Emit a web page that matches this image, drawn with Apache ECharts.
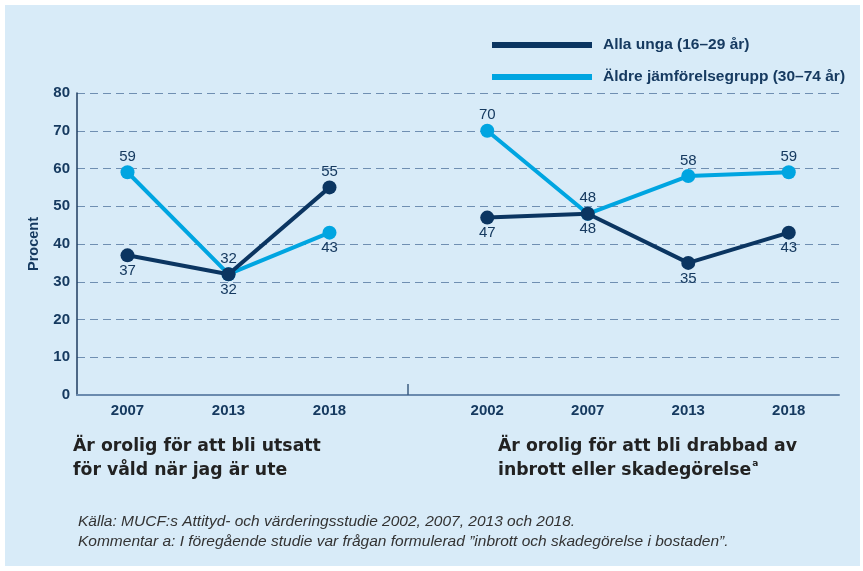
<!DOCTYPE html>
<html>
<head>
<meta charset="utf-8">
<script src="https://cdn.jsdelivr.net/npm/echarts@6/dist/echarts.min.js"></script>
<style>
  html, body { margin: 0; padding: 0; background: #fff; }
  #chart { width: 863px; height: 571px; }
</style>
</head>
<body>
<div id="chart"></div>
<script>
// data
var leftYears = ['2007', '2013', '2018']
var rightYears = ['2002', '2007', '2013', '2018']
var youngLeft = [37, 32, 55]
var olderLeft = [59, 32, 43]
var youngRight = [47, 48, 35, 43]
var olderRight = [70, 48, 58, 59]
var seriesNames = ['Alla unga (16–29 år)', 'Äldre jämförelsegrupp (30–74 år)']
var yTicks = [0, 10, 20, 30, 40, 50, 60, 70, 80]
// label side per point
var youngLeftPos = ['bottom', 'bottom', 'top']
var olderLeftPos = ['top', 'top', 'bottom']
var youngRightPos = ['bottom', 'bottom', 'bottom', 'bottom']
var olderRightPos = ['top', 'top', 'top', 'top']
var gapTick = 0.434 // where the separator tick sits along the whole axis

var navy = '#0b3561'
var cyan = '#00a5e1'
var textNavy = '#163a60'
var font = '"Liberation Sans", Arial, sans-serif'
var wideFont = '"DejaVu Sans", sans-serif'

function points(values, pos) {
  return values.map(function (v, i) {
    return { value: v, label: { position: pos[i] } }
  })
}

function lineSeries(name, color, xi, values, pos, z) {
  return {
    name: name,
    type: 'line',
    xAxisIndex: xi,
    yAxisIndex: xi,
    data: points(values, pos),
    symbol: 'circle',
    symbolSize: 14,
    z: z,
    lineStyle: { color: color, width: 4 },
    itemStyle: { color: color },
    label: {
      show: true,
      distance: 1,
      color: textNavy,
      fontSize: 15,
      fontFamily: font
    },
    emphasis: { disabled: true },
    animation: false
  }
}

var chart = echarts.init(document.getElementById('chart'))

var catAxis = function (gi, data) {
  return {
    type: 'category',
    gridIndex: gi,
    data: data,
    boundaryGap: true,
    axisLine: { show: false },
    axisTick: { show: false },
    axisLabel: {
      color: textNavy,
      fontWeight: 'bold',
      fontSize: 15,
      fontFamily: font,
      margin: 8
    }
  }
}

var hiddenY = function (gi) {
  return {
    type: 'value', gridIndex: gi, min: 0, max: 80, interval: 10,
    axisLine: { show: false }, axisTick: { show: false },
    axisLabel: { show: false }, splitLine: { show: false }
  }
}

chart.setOption({
  backgroundColor: '#ffffff',
  graphic: [{
    type: 'rect',
    shape: { x: 5, y: 5, width: 855, height: 561 },
    style: { fill: '#d8ebf8' },
    z: -10,
    silent: true
  }],
  title: [{
    text: 'Är orolig för att bli utsatt\nför våld när jag är ute',
    left: 68,
    top: 430,
    textStyle: { color: '#222', fontSize: 17.3, fontWeight: 'bold', lineHeight: 24, fontFamily: wideFont }
  }, {
    text: '{t|Är orolig för att bli drabbad av}\n{t|inbrott eller skadegörelse}{s|a}',
    left: 493,
    top: 430,
    textStyle: {
      rich: {
        t: { color: '#222', fontSize: 17.3, fontWeight: 'bold', lineHeight: 24, fontFamily: wideFont },
        s: { color: '#222', fontSize: 9, fontWeight: 'bold', lineHeight: 24, fontFamily: wideFont, verticalAlign: 'top', padding: [0, 0, 10, 1] }
      }
    }
  }, {
    text: 'Källa: MUCF:s Attityd- och värderingsstudie 2002, 2007, 2013 och 2018.\nKommentar a: I föregående studie var frågan formulerad ”inbrott och skadegörelse i bostaden”.',
    left: 73,
    top: 507,
    textStyle: { color: '#333', fontSize: 15.5, fontStyle: 'italic', fontWeight: 'normal', lineHeight: 20, fontFamily: font }
  }],
  legend: {
    data: seriesNames,
    orient: 'vertical',
    left: 487,
    top: 31,
    icon: 'rect',
    itemWidth: 100,
    itemHeight: 6,
    itemGap: 14,
    selectedMode: false,
    textStyle: {
      color: textNavy,
      fontSize: 15.5,
      fontWeight: 'bold',
      fontFamily: font,
      lineHeight: 18,
      padding: [0, 0, 0, 6]
    }
  },
  grid: [
    { left: 77, right: 483, top: 93, bottom: 176 },
    { left: 437, right: 24, top: 93, bottom: 176 },
    { left: 77, right: 24, top: 93, bottom: 176 }
  ],
  xAxis: [
    catAxis(0, leftYears),
    catAxis(1, rightYears),
    {
      type: 'value', gridIndex: 2, min: 0, max: 1,
      axisLine: { show: true, lineStyle: { color: '#6a8aae', width: 2 } },
      axisTick: { show: true, inside: true, length: 11, customValues: [gapTick], lineStyle: { color: '#3c5c80', width: 1.5 } },
      axisLabel: { show: false },
      splitLine: { show: false }
    }
  ],
  yAxis: [
    hiddenY(0),
    hiddenY(1),
    {
      type: 'value', gridIndex: 2, min: 0, max: 80, interval: 10,
      name: 'Procent',
      nameLocation: 'middle',
      nameGap: 36,
      nameTextStyle: { color: textNavy, fontWeight: 'bold', fontSize: 14.5, fontFamily: font },
      axisLine: { show: true, lineStyle: { color: '#1f3d60', width: 1.5 } },
      axisTick: { show: false },
      axisLabel: {
        color: textNavy, fontWeight: 'bold', fontSize: 15, fontFamily: font, margin: 7,
        customValues: yTicks
      },
      splitLine: {
        show: true,
        lineStyle: { color: '#6f8fb2', type: [8, 5], width: 1 }
      }
    }
  ],
  series: [
    lineSeries(seriesNames[1], cyan, 0, olderLeft, olderLeftPos, 2),
    lineSeries(seriesNames[0], navy, 0, youngLeft, youngLeftPos, 3),
    lineSeries(seriesNames[1], cyan, 1, olderRight, olderRightPos, 2),
    lineSeries(seriesNames[0], navy, 1, youngRight, youngRightPos, 3)
  ]
})
</script>
</body>
</html>
